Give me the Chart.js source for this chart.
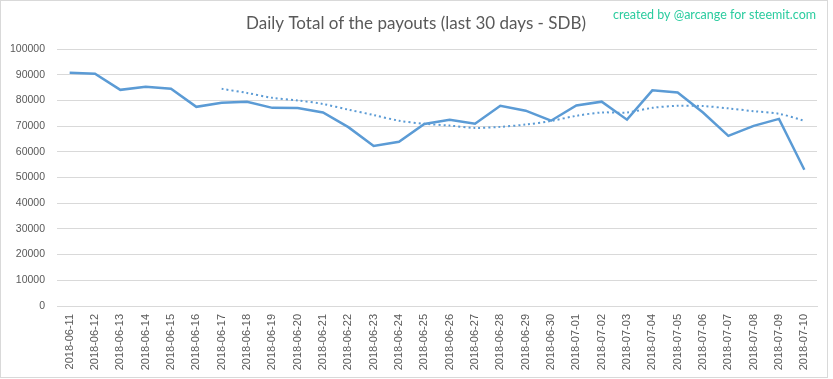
<!DOCTYPE html>
<html>
<head>
<meta charset="utf-8">
<script src="https://cdn.jsdelivr.net/npm/chart.js@4/dist/chart.umd.min.js"></script>
<style>
html,body{margin:0;padding:0;background:#fff;}
#wrap{position:relative;width:833px;height:379px;}
</style>
</head>
<body>
<div id="wrap"><canvas id="c" width="833" height="379"></canvas></div>
<script>
const categories = ["2018-06-11","2018-06-12","2018-06-13","2018-06-14","2018-06-15","2018-06-16","2018-06-17","2018-06-18","2018-06-19","2018-06-20","2018-06-21","2018-06-22","2018-06-23","2018-06-24","2018-06-25","2018-06-26","2018-06-27","2018-06-28","2018-06-29","2018-06-30","2018-07-01","2018-07-02","2018-07-03","2018-07-04","2018-07-05","2018-07-06","2018-07-07","2018-07-08","2018-07-09","2018-07-10"];
const payouts = [90800,90400,84100,85300,84500,77500,79100,79500,77100,77000,75300,69600,62300,63900,70800,72500,70900,77900,76000,72100,78000,79500,72500,83900,83100,75300,66200,70100,72800,53000];
const trend = [null,null,null,null,null,null,84500,82900,81000,80000,78600,76400,74300,72100,70900,70200,69300,69700,70600,72000,74000,75300,75300,77100,77900,77800,76900,75800,74800,72100];
const yTicks = [0,10000,20000,30000,40000,50000,60000,70000,80000,90000,100000];
const titleText = "Daily Total of the payouts (last 30 days - SDB)";
const creditText = "created by @arcange for steemit.com";

const frame = {
  id: 'frame',
  beforeDraw(chart) {
    const ctx = chart.ctx;
    ctx.save();
    ctx.fillStyle = '#ffffff';
    ctx.fillRect(0, 0, chart.width, chart.height);
    ctx.strokeStyle = '#d9d9d9';
    ctx.lineWidth = 1;
    ctx.strokeRect(0.5, 0.5, 827, 377);
    ctx.restore();
  },
  afterDraw(chart) {
    const ctx = chart.ctx;
    ctx.save();
    ctx.textBaseline = 'middle';
    ctx.textAlign = 'center';
    ctx.font = '17px Lato';
    ctx.fillStyle = '#595959';
    ctx.fillText(titleText, 416, 24);
    ctx.font = '12.5px Lato';
    ctx.fillStyle = '#2bcc9f';
    ctx.textAlign = 'right';
    ctx.fillText(creditText, 816, 15);
    ctx.restore();
  }
};

new Chart(document.getElementById('c'), {
  type: 'line',
  data: {
    labels: categories,
    datasets: [
      {
        label: 'Payouts',
        data: payouts,
        borderColor: '#5b9bd5',
        borderWidth: 2.5,
        pointRadius: 0,
        tension: 0,
        fill: false
      },
      {
        label: 'Trend',
        data: trend,
        borderColor: '#5b9bd5',
        borderWidth: 2,
        borderDash: [2, 3],
        pointRadius: 0,
        tension: 0.3,
        fill: false
      }
    ]
  },
  options: {
    responsive: false,
    animation: false,
    layout: { padding: { left: 0, right: 16, top: 49, bottom: 0 } },
    plugins: {
      legend: { display: false },
      tooltip: { enabled: false },
      title: { display: false }
    },
    scales: {
      x: {
        offset: true,
        grid: { display: false, drawTicks: false },
        border: { display: true, color: '#d9d9d9', width: 1 },
        ticks: {
          color: '#595959',
          font: { family: 'Liberation Sans', size: 11 },
          minRotation: 90,
          maxRotation: 90,
          autoSkip: false,
          padding: 8
        },
        afterFit(scale) { scale.height = 73; }
      },
      y: {
        min: 0,
        max: 100000,
        afterBuildTicks(scale) { scale.ticks = yTicks.map(v => ({ value: v })); },
        grid: { color: '#d9d9d9', drawTicks: false },
        border: { display: false },
        ticks: {
          color: '#595959',
          font: { family: 'Liberation Sans', size: 10.5 },
          padding: 12,
          callback: (v) => String(v)
        },
        afterFit(scale) { scale.width = 57; }
      }
    }
  },
  plugins: [frame]
});
</script>
</body>
</html>
